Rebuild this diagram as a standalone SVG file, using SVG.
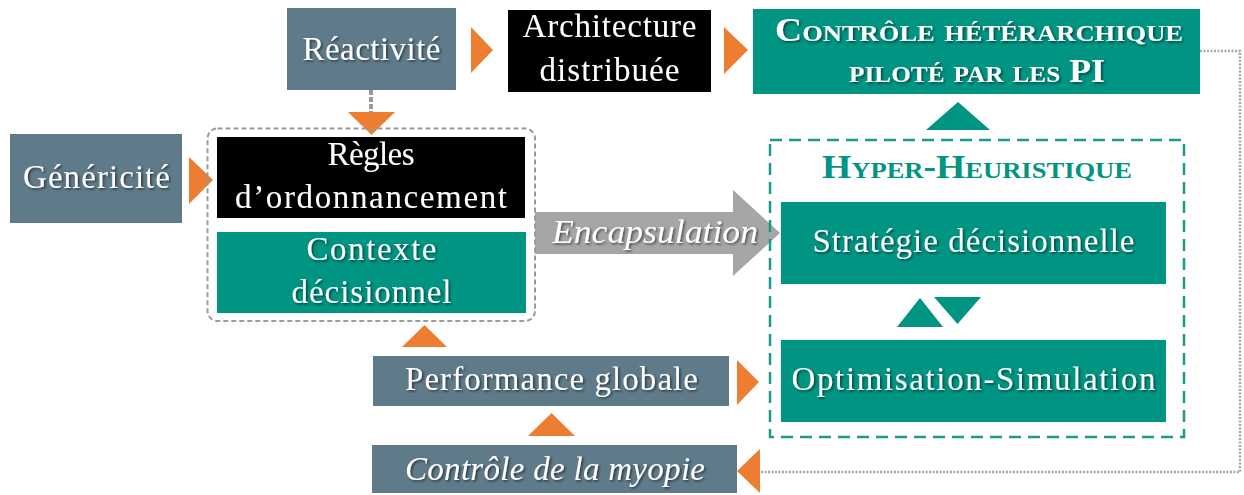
<svg xmlns="http://www.w3.org/2000/svg" width="1244" height="495" viewBox="0 0 1244 495">
<defs>
<filter id="sh" x="-10%" y="-40%" width="120%" height="180%">
<feDropShadow dx="1.5" dy="1.5" stdDeviation="1" flood-color="#000" flood-opacity="0.55"/>
</filter>
<style>
.t{font-family:"Liberation Serif","DejaVu Serif",serif;font-size:33px;fill:#fff;text-anchor:middle;filter:url(#sh)}
.i{font-style:italic}
.sc{font-variant:small-caps;font-weight:bold;font-size:34px}
.slate{fill:#5f7b8a}
.teal{fill:#009482}
.blk{fill:#000}
.or{fill:#ED7D31}
.tri{fill:#009482}
</style>
</defs>
<rect width="1244" height="495" fill="#fff"/>

<g id="connectors">
<line x1="371" y1="90" x2="371" y2="113" stroke="#9a9a9a" stroke-width="4" stroke-dasharray="5 2"/>
<polygon class="or" points="348,112 395,112 371.5,135"/>
<polygon class="or" points="471,27 493,50 471,73"/>
<polygon class="or" points="724,27 748,50 724,74"/>
<polygon class="or" points="189,157 213,180 189,204"/>
<polygon class="tri" points="926,130 990,130 958,102"/>
<polygon class="tri" points="897,327 943,327 920,298"/>
<polygon class="tri" points="934,297 981,297 957.5,324"/>
<polygon fill="#a6a6a6" points="535,212 733,212 733,190 780,233 733,276 733,254 535,254"/>
<text class="t i" x="655" y="243" textLength="206" lengthAdjust="spacingAndGlyphs">Encapsulation</text>
<polygon class="or" points="402,347 447,347 424.5,325"/>
<polygon class="or" points="737,360 759,382 737,405"/>
<polygon class="or" points="528,436 575,436 551.5,413"/>
<polygon class="or" points="760,449 737,471 760,493"/>
<path d="M1200 51 H1240 V472 H761" fill="none" stroke="#a8a8a8" stroke-width="2.5" stroke-dasharray="2 1.5"/>
</g>

<g id="reactivite">
<rect class="slate" x="287" y="8" width="169" height="82"/>
<text class="t" x="371.5" y="60" textLength="138">Réactivité</text>
</g>

<g id="architecture">
<rect class="blk" x="508" y="10" width="203" height="82"/>
<text class="t" x="609.5" y="37" textLength="174">Architecture</text>
<text class="t" x="609.5" y="81" textLength="140">distribuée</text>
</g>

<g id="controle-heterarchique">
<rect class="teal" x="753" y="9" width="447" height="85"/>
<text class="t sc" x="979" y="41" textLength="408" lengthAdjust="spacingAndGlyphs">Contrôle hétérarchique</text>
<text class="t sc" x="977" y="82" textLength="256" lengthAdjust="spacingAndGlyphs">piloté par les PI</text>
</g>

<g id="genericite">
<rect class="slate" x="10" y="134" width="172" height="89"/>
<text class="t" x="96.5" y="188" textLength="147">Généricité</text>
</g>

<g id="ordonnancement-groupe">
<rect x="207.5" y="128.5" width="327.5" height="192.5" rx="10" fill="none" stroke="#9a9a9a" stroke-width="2" stroke-dasharray="5 3"/>
</g>

<g id="regles">
<rect class="blk" x="217" y="137" width="308" height="81"/>
<text class="t" x="371" y="165" textLength="87">Règles</text>
<text class="t" x="371" y="208" textLength="272">d’ordonnancement</text>
</g>

<g id="contexte">
<rect class="teal" x="217" y="232" width="309" height="81"/>
<text class="t" x="371.5" y="260" textLength="130">Contexte</text>
<text class="t" x="371.5" y="303" textLength="160">décisionnel</text>
</g>

<g id="hyper-heuristique">
<rect x="770" y="140" width="414" height="297" fill="none" stroke="#1a9a8a" stroke-width="2.5" stroke-dasharray="12 7"/>
<text x="977" y="178" text-anchor="middle" font-family="Liberation Serif, DejaVu Serif, serif" font-size="34" font-weight="bold" font-variant="small-caps" fill="#009482" textLength="310" lengthAdjust="spacingAndGlyphs">Hyper-Heuristique</text>
</g>

<g id="strategie">
<rect class="teal" x="781" y="202" width="385" height="82"/>
<text class="t" x="973.5" y="252" textLength="322">Stratégie décisionnelle</text>
</g>

<g id="optimisation">
<rect class="teal" x="781" y="340" width="385" height="82"/>
<text class="t" x="973.5" y="390" textLength="364">Optimisation-Simulation</text>
</g>

<g id="performance">
<rect class="slate" x="373" y="356" width="356" height="50"/>
<text class="t" x="551.5" y="390" textLength="293">Performance globale</text>
</g>

<g id="myopie">
<rect class="slate" x="372" y="445" width="365" height="48"/>
<text class="t i" x="555" y="480" textLength="300">Contrôle de la myopie</text>
</g>
</svg>
